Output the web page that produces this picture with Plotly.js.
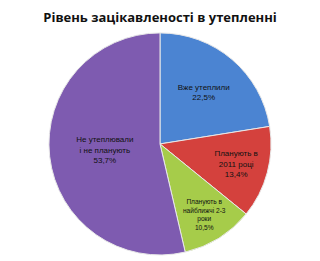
<!DOCTYPE html>
<html><head><meta charset="utf-8">
<script src="https://cdn.plot.ly/plotly-3.0.1.min.js"></script>
<style>html,body{margin:0;padding:0;background:#fff}#c{width:320px;height:261px}</style>
</head><body><div id="c"></div>
<script>
const categories = ["Вже утеплили", "Планують в 2011 році", "Планують в найближчі 2-3 роки", "Не утеплювали і не планують"];
const values = [22.5, 13.4, 10.5, 53.7];
const labelTexts = ["Вже утеплили<br>22,5%", "Планують в<br>2011 році<br>13,4%", "Планують в<br>найближчі 2-3<br>роки<br>10,5%", "Не утеплювали<br>і не планують<br>53,7%"];
const colors = ["#4b84d2", "#d4413d", "#a6cc4a", "#7e5bb0"];

Plotly.newPlot("c", [{
  type: "pie",
  labels: categories,
  values: values,
  text: labelTexts,
  textinfo: "text",
  textposition: "inside",
  insidetextorientation: "horizontal",
  sort: false,
  direction: "clockwise",
  rotation: 0,
  hoverinfo: "none",
  marker: {colors: colors, line: {color: "#e8e8e8", width: 1}},
  textfont: {family: "Liberation Sans, Arial, sans-serif", size: 8, color: "#111"},
  domain: {x: [0.153, 0.847], y: [0.023, 0.874]}
}], {
  width: 320, height: 261,
  margin: {l: 0, r: 0, t: 0, b: 0},
  paper_bgcolor: "#fff",
  showlegend: false,
  title: {text: "<b>Рівень зацікавленості в утепленні</b>", x: 0.5, xanchor: "center", y: 0.935, yanchor: "middle",
          font: {family: "Open Sans, Liberation Sans, sans-serif", size: 13, color: "#111"}}
}, {staticPlot: true});
</script></body></html>
